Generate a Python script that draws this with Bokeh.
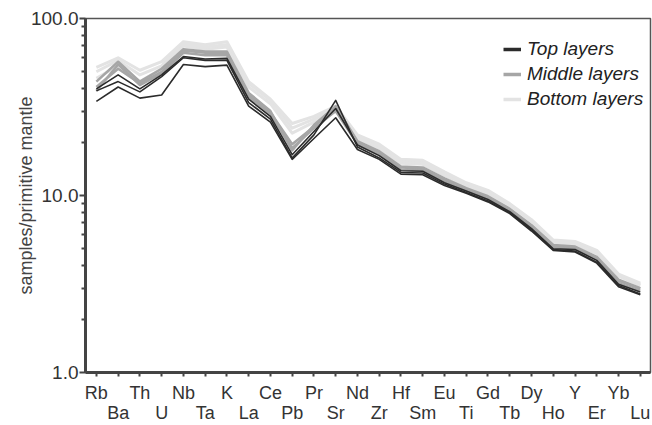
from bokeh.plotting import figure
from bokeh.models import FixedTicker, NumeralTickFormatter, Legend, LegendItem, Range1d
from bokeh.embed import file_html
from bokeh.resources import INLINE

elements = ["Rb", "Ba", "Th", "U", "Nb", "Ta", "K", "La", "Ce", "Pb", "Pr", "Sr", "Nd",
            "Zr", "Hf", "Sm", "Eu", "Ti", "Gd", "Tb", "Dy", "Ho", "Y", "Er", "Yb", "Lu"]

# Top layers (dark)
top_1 = [34, 41, 35.5, 37, 55, 53.5, 54.5, 32, 26, 16, 21, 27.5, 18.2, 16, 13.2, 13.1, 11.4, 10.3, 9.2, 7.9, 6.3, 4.9, 4.8, 4.15, 3.05, 2.75]
top_2 = [39, 44, 38.5, 47, 60, 58, 58, 33.5, 27, 16.3, 22, 34.5, 18.8, 16.3, 13.5, 13.4, 11.6, 10.4, 9.3, 8.0, 6.4, 4.95, 4.85, 4.2, 3.1, 2.78]
top_3 = [40, 48, 40, 48, 61, 59, 59.5, 35, 28, 17, 23, 31, 19.3, 16.8, 13.8, 13.7, 11.8, 10.6, 9.5, 8.1, 6.5, 5.0, 4.95, 4.3, 3.15, 2.85]

# Middle layers (grey)
mid_1 = [39, 55, 42, 49, 64, 62, 62, 36, 29, 18.5, 24, 30, 19.5, 17, 14, 13.9, 12, 10.7, 9.6, 8.2, 6.6, 5.1, 5.0, 4.35, 3.2, 2.9]
mid_2 = [41, 52, 43, 50, 66, 64, 64, 37, 29.5, 19.5, 24.5, 31.5, 20, 17.5, 14.4, 14.2, 12.3, 10.9, 9.8, 8.35, 6.75, 5.2, 5.1, 4.45, 3.3, 2.98]
mid_3 = [44, 57, 44, 52, 67, 65, 65, 38, 30, 18, 25, 32, 20.3, 17.8, 14.6, 14.4, 12.5, 11.0, 9.9, 8.4, 6.8, 5.25, 5.15, 4.5, 3.35, 3.0]

# Bottom layers (light)
bot_1 = [46, 54, 44, 52, 70, 67, 69, 41, 33, 22.5, 26, 30, 21, 18.5, 15.2, 15, 13, 11.3, 10.2, 8.6, 7.0, 5.4, 5.3, 4.7, 3.5, 3.1]
bot_2 = [50, 58, 48, 54, 72, 69, 71, 43, 34.5, 24, 27, 31, 21.5, 19, 15.6, 15.4, 13.3, 11.5, 10.5, 8.8, 7.1, 5.5, 5.45, 4.85, 3.55, 3.15]
bot_3 = [53, 60, 51, 57, 74, 71, 74, 44, 35, 25.5, 28, 32, 22, 19.5, 16, 15.8, 13.6, 11.8, 10.7, 9.0, 7.3, 5.6, 5.5, 4.9, 3.6, 3.2]

groups = [
    ("Bottom layers", [bot_1, bot_2, bot_3], "#e3e3e3", 3.0),
    ("Middle layers", [mid_1, mid_2, mid_3], "#a6a6a6", 2.5),
    ("Top layers", [top_1, top_2, top_3], "#2b2b2b", 1.6),
]

xs = list(range(len(elements)))

p = figure(width=652, height=425, x_range=Range1d(-0.5, 25.47), y_range=Range1d(1, 100),
           y_axis_type="log", output_backend="svg", toolbar_location=None,
           min_border_left=85, min_border_top=18, min_border_right=2, min_border_bottom=52)
p.xgrid.visible = False
p.ygrid.visible = False
p.outline_line_color = "#555555"
p.outline_line_width = 1.5
p.background_fill_color = "white"
p.border_fill_color = "white"

legend_renderers = {}
for name, series, color, lw in groups:
    for s in series:
        p.line(xs, s, line_color=color, line_width=lw, line_join="round")
    # off-screen stub so the legend shows a thick swatch
    legend_renderers[name] = p.line([-5, -4], [50, 50], line_color=color, line_width=3.5)

# x axis
xa = p.xaxis[0]
xa.ticker = FixedTicker(ticks=xs)
xa.major_label_overrides = {i: (el if i % 2 == 0 else "\n" + el) for i, el in enumerate(elements)}
xa.major_tick_in = 0
xa.major_tick_out = 4
xa.minor_tick_line_color = None
xa.axis_line_width = 3
xa.axis_line_color = "#444444"
xa.major_tick_line_color = "#444444"
xa.major_tick_line_width = 2
xa.major_label_text_font = "Liberation Sans"
xa.major_label_text_font_size = "18px"
xa.major_label_text_line_height = 1.0
xa.major_label_text_color = "#333333"
xa.major_label_standoff = 6

# y axis
ya = p.yaxis[0]
ya.ticker = FixedTicker(ticks=[1, 10, 100],
                        minor_ticks=[2, 3, 4, 5, 6, 7, 8, 9, 20, 30, 40, 50, 60, 70, 80, 90])
ya.formatter = NumeralTickFormatter(format="0.0")
ya.major_tick_in = 0
ya.major_tick_out = 6
ya.minor_tick_in = 0
ya.minor_tick_out = 4
ya.axis_line_width = 3
ya.axis_line_color = "#444444"
ya.major_tick_line_color = "#444444"
ya.minor_tick_line_color = "#444444"
ya.major_tick_line_width = 2
ya.minor_tick_line_width = 2
ya.major_label_text_font = "Liberation Sans"
ya.major_label_text_font_size = "19px"
ya.major_label_text_color = "#333333"
ya.major_label_standoff = 1
ya.axis_label = "samples/primitive mantle"
ya.axis_label_text_font = "Liberation Sans"
ya.axis_label_text_font_style = "normal"
ya.axis_label_text_font_size = "18px"
ya.axis_label_text_color = "#444444"
ya.axis_label_standoff = -8

legend = Legend(items=[LegendItem(label="Top layers", renderers=[legend_renderers["Top layers"]]),
                       LegendItem(label="Middle layers", renderers=[legend_renderers["Middle layers"]]),
                       LegendItem(label="Bottom layers", renderers=[legend_renderers["Bottom layers"]])],
                location=(418, 262))
legend.border_line_color = None
legend.background_fill_alpha = 0
legend.padding = 0
legend.margin = 0
legend.spacing = 3
legend.glyph_width = 18
legend.glyph_height = 20
legend.label_height = 20
legend.label_standoff = 6
legend.label_text_font = "Liberation Sans"
legend.label_text_font_style = "italic"
legend.label_text_font_size = "19px"
legend.label_text_color = "#222222"
p.add_layout(legend)

html = file_html(p, INLINE)
html = html.replace("</head>", "<style>html, body { overflow: hidden; }</style></head>", 1)
open("out.html", "w").write(html)
